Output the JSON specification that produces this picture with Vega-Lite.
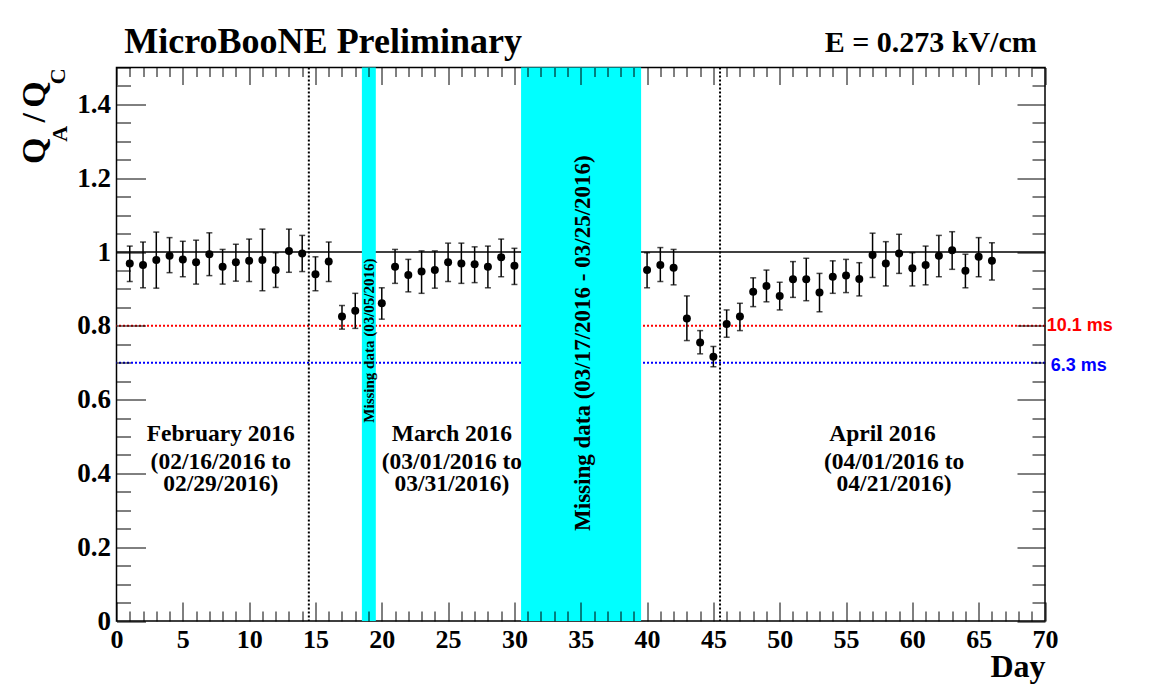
{
  "$schema": "https://vega.github.io/schema/vega-lite/v6.json",
  "width": 928.5,
  "height": 553.5,
  "autosize": {"type": "none"},
  "padding": {"left": 116.5, "top": 67.5, "right": 117, "bottom": 69},
  "background": "white",
  "config": {
    "view": {"stroke": "black", "strokeWidth": 1.5},
    "font": "Liberation Serif"
  },
  "datasets": {
    "pts": [
      {"day": 1, "q": 0.969, "lo": 0.920, "hi": 1.016},
      {"day": 2, "q": 0.965, "lo": 0.903, "hi": 1.027},
      {"day": 3, "q": 0.978, "lo": 0.902, "hi": 1.054},
      {"day": 4, "q": 0.990, "lo": 0.944, "hi": 1.039},
      {"day": 5, "q": 0.980, "lo": 0.933, "hi": 1.029},
      {"day": 6, "q": 0.972, "lo": 0.913, "hi": 1.032},
      {"day": 7, "q": 0.994, "lo": 0.936, "hi": 1.052},
      {"day": 8, "q": 0.960, "lo": 0.913, "hi": 1.007},
      {"day": 9, "q": 0.972, "lo": 0.921, "hi": 1.021},
      {"day": 10, "q": 0.976, "lo": 0.920, "hi": 1.035},
      {"day": 11, "q": 0.978, "lo": 0.895, "hi": 1.062},
      {"day": 12, "q": 0.951, "lo": 0.904, "hi": 0.998},
      {"day": 13, "q": 1.003, "lo": 0.945, "hi": 1.062},
      {"day": 14, "q": 0.996, "lo": 0.947, "hi": 1.045},
      {"day": 15, "q": 0.940, "lo": 0.895, "hi": 0.987},
      {"day": 16, "q": 0.974, "lo": 0.920, "hi": 1.027},
      {"day": 17, "q": 0.825, "lo": 0.791, "hi": 0.855},
      {"day": 18, "q": 0.841, "lo": 0.793, "hi": 0.888},
      {"day": 20, "q": 0.861, "lo": 0.818, "hi": 0.903},
      {"day": 21, "q": 0.960, "lo": 0.915, "hi": 1.007},
      {"day": 22, "q": 0.938, "lo": 0.892, "hi": 0.980},
      {"day": 23, "q": 0.947, "lo": 0.888, "hi": 1.003},
      {"day": 24, "q": 0.951, "lo": 0.902, "hi": 1.003},
      {"day": 25, "q": 0.972, "lo": 0.920, "hi": 1.024},
      {"day": 26, "q": 0.969, "lo": 0.915, "hi": 1.024},
      {"day": 27, "q": 0.967, "lo": 0.917, "hi": 1.014},
      {"day": 28, "q": 0.960, "lo": 0.903, "hi": 1.016},
      {"day": 29, "q": 0.986, "lo": 0.933, "hi": 1.035},
      {"day": 30, "q": 0.963, "lo": 0.912, "hi": 1.010},
      {"day": 40, "q": 0.951, "lo": 0.903, "hi": 0.998},
      {"day": 41, "q": 0.965, "lo": 0.920, "hi": 1.012},
      {"day": 42, "q": 0.957, "lo": 0.911, "hi": 1.007},
      {"day": 43, "q": 0.820, "lo": 0.760, "hi": 0.881},
      {"day": 44, "q": 0.755, "lo": 0.724, "hi": 0.787},
      {"day": 45, "q": 0.716, "lo": 0.689, "hi": 0.744},
      {"day": 46, "q": 0.805, "lo": 0.769, "hi": 0.843},
      {"day": 47, "q": 0.825, "lo": 0.787, "hi": 0.861},
      {"day": 48, "q": 0.892, "lo": 0.852, "hi": 0.930},
      {"day": 49, "q": 0.908, "lo": 0.865, "hi": 0.951},
      {"day": 50, "q": 0.881, "lo": 0.843, "hi": 0.918},
      {"day": 51, "q": 0.926, "lo": 0.877, "hi": 0.974},
      {"day": 52, "q": 0.926, "lo": 0.868, "hi": 0.983},
      {"day": 53, "q": 0.890, "lo": 0.838, "hi": 0.942},
      {"day": 54, "q": 0.933, "lo": 0.888, "hi": 0.976},
      {"day": 55, "q": 0.936, "lo": 0.890, "hi": 0.980},
      {"day": 56, "q": 0.927, "lo": 0.881, "hi": 0.971},
      {"day": 57, "q": 0.992, "lo": 0.931, "hi": 1.051},
      {"day": 58, "q": 0.969, "lo": 0.908, "hi": 1.028},
      {"day": 59, "q": 0.996, "lo": 0.942, "hi": 1.048},
      {"day": 60, "q": 0.956, "lo": 0.908, "hi": 0.998},
      {"day": 61, "q": 0.965, "lo": 0.911, "hi": 1.016},
      {"day": 62, "q": 0.990, "lo": 0.933, "hi": 1.045},
      {"day": 63, "q": 1.005, "lo": 0.953, "hi": 1.055},
      {"day": 64, "q": 0.949, "lo": 0.903, "hi": 0.994},
      {"day": 65, "q": 0.987, "lo": 0.933, "hi": 1.039},
      {"day": 66, "q": 0.976, "lo": 0.924, "hi": 1.025}
    ],
    "months": [
      {"day": 7.86, "val": 0.488, "t": "February 2016"},
      {"day": 7.86, "val": 0.413, "t": "(02/16/2016 to"},
      {"day": 7.86, "val": 0.353, "t": "02/29/2016)"},
      {"day": 25.29, "val": 0.488, "t": "March 2016"},
      {"day": 25.29, "val": 0.413, "t": "(03/01/2016 to"},
      {"day": 25.29, "val": 0.353, "t": "03/31/2016)"},
      {"day": 57.75, "val": 0.488, "t": "April 2016"},
      {"day": 58.62, "val": 0.413, "t": "(04/01/2016 to"},
      {"day": 58.62, "val": 0.353, "t": "04/21/2016)"}
    ]
  },
  "layer": [
    {
      "data": {"values": [{"val": 1}]},
      "mark": {"type": "rule", "color": "black", "strokeWidth": 1.5},
      "encoding": {
        "y": {"field": "val", "type": "quantitative", "scale": {"domain": [0, 1.5], "nice": false}, "axis": null}
      }
    },
    {
      "data": {"values": [{"val": 0.8}]},
      "mark": {"type": "rule", "color": "#ff0000", "strokeWidth": 2, "strokeDash": [2, 2]},
      "encoding": {
        "y": {"field": "val", "type": "quantitative", "scale": {"domain": [0, 1.5], "nice": false}, "axis": null}
      }
    },
    {
      "data": {"values": [{"val": 0.7}]},
      "mark": {"type": "rule", "color": "#0000ff", "strokeWidth": 2, "strokeDash": [2, 2]},
      "encoding": {
        "y": {"field": "val", "type": "quantitative", "scale": {"domain": [0, 1.5], "nice": false}, "axis": null}
      }
    },
    {
      "data": {"values": [{"day": 18.5, "day2": 19.55}, {"day": 30.5, "day2": 39.55}]},
      "mark": {"type": "rect", "color": "#00ffff"},
      "encoding": {
        "x": {"field": "day", "type": "quantitative", "scale": {"domain": [0, 70], "nice": false}, "axis": null},
        "x2": {"field": "day2"}
      }
    },
    {
      "data": {"values": [{"day": 14.5}, {"day": 45.5}]},
      "mark": {"type": "rule", "color": "black", "strokeWidth": 2, "strokeDash": [2, 2]},
      "encoding": {
        "x": {"field": "day", "type": "quantitative", "scale": {"domain": [0, 70], "nice": false}, "axis": null}
      }
    },
    {
      "data": {"name": "pts"},
      "mark": {"type": "errorbar", "color": "black", "thickness": 1.5, "ticks": {"size": 6, "color": "black"}},
      "encoding": {
        "x": {"field": "day", "type": "quantitative", "scale": {"domain": [0, 70], "nice": false}, "axis": null},
        "y": {"field": "lo", "type": "quantitative", "scale": {"domain": [0, 1.5], "nice": false}, "axis": null},
        "y2": {"field": "hi"}
      }
    },
    {
      "data": {"name": "pts"},
      "mark": {"type": "circle", "size": 64, "color": "black", "opacity": 1},
      "encoding": {
        "x": {
          "field": "day", "type": "quantitative", "scale": {"domain": [0, 70], "nice": false},
          "axis": {
            "orient": "bottom", "zindex": 1, "domain": false, "grid": false,
            "values": [0,1,2,3,4,5,6,7,8,9,10,11,12,13,14,15,16,17,18,19,20,21,22,23,24,25,26,27,28,29,30,31,32,33,34,35,36,37,38,39,40,41,42,43,44,45,46,47,48,49,50,51,52,53,54,55,56,57,58,59,60,61,62,63,64,65,66,67,68,69,70],
            "labelExpr": "datum.value % 5 === 0 ? datum.label : ''",
            "labelFont": "Liberation Serif", "labelFontWeight": "bold", "labelFontSize": 26, "labelColor": "black",
            "labelOverlap": false, "labelFlush": false, "labelPadding": 24,
            "tickColor": "black", "tickWidth": 1,
            "tickSize": {"condition": {"test": "datum.value % 5 === 0", "value": -19}, "value": -10},
            "title": "Day", "titleFont": "Liberation Serif", "titleFontWeight": "bold", "titleFontSize": 32, "titleColor": "black",
            "titleAnchor": "end", "titleAlign": "right", "titlePadding": -10
          }
        },
        "y": {
          "field": "q", "type": "quantitative", "scale": {"domain": [0, 1.5], "nice": false},
          "axis": {
            "orient": "left", "zindex": 1, "domain": false, "grid": false,
            "values": [0,0.05,0.1,0.15,0.2,0.25,0.3,0.35,0.4,0.45,0.5,0.55,0.6,0.65,0.7,0.75,0.8,0.85,0.9,0.95,1,1.05,1.1,1.15,1.2,1.25,1.3,1.35,1.4,1.45,1.5],
            "labelExpr": "abs(datum.value*5 - round(datum.value*5)) < 0.001 ? format(datum.value, '.1~f') : ''",
            "labelFont": "Liberation Serif", "labelFontWeight": "bold", "labelFontSize": 27, "labelColor": "black",
            "labelOverlap": false, "labelFlush": false, "labelPadding": 35,
            "tickColor": "black", "tickWidth": 1,
            "tickSize": {"condition": {"test": "abs(datum.value*5 - round(datum.value*5)) < 0.001", "value": -29}, "value": -14},
            "title": null
          }
        }
      }
    },
    {
      "data": {"name": "months"},
      "mark": {"type": "text", "font": "Liberation Serif", "fontWeight": "bold", "fontSize": 23.5, "color": "black", "align": "center", "baseline": "alphabetic"},
      "encoding": {
        "x": {
          "field": "day", "type": "quantitative", "scale": {"domain": [0, 70], "nice": false},
          "axis": {
            "orient": "top", "zindex": 1, "domain": false, "grid": false, "labels": false, "title": null,
            "values": [0,1,2,3,4,5,6,7,8,9,10,11,12,13,14,15,16,17,18,19,20,21,22,23,24,25,26,27,28,29,30,31,32,33,34,35,36,37,38,39,40,41,42,43,44,45,46,47,48,49,50,51,52,53,54,55,56,57,58,59,60,61,62,63,64,65,66,67,68,69,70],
            "tickColor": "black", "tickWidth": 1,
            "tickSize": {"condition": {"test": "datum.value % 5 === 0", "value": -17}, "value": -9}
          }
        },
        "y": {
          "field": "val", "type": "quantitative", "scale": {"domain": [0, 1.5], "nice": false},
          "axis": {
            "orient": "right", "zindex": 1, "domain": false, "grid": false, "labels": false, "title": null,
            "values": [0,0.05,0.1,0.15,0.2,0.25,0.3,0.35,0.4,0.45,0.5,0.55,0.6,0.65,0.7,0.75,0.8,0.85,0.9,0.95,1,1.05,1.1,1.15,1.2,1.25,1.3,1.35,1.4,1.45,1.5],
            "tickColor": "black", "tickWidth": 1,
            "tickSize": {"condition": {"test": "abs(datum.value*5 - round(datum.value*5)) < 0.001", "value": -28}, "value": -13}
          }
        },
        "text": {"field": "t"}
      }
    },
    {
      "data": {"values": [{"day": 19.02, "val": 0.76, "t": "Missing data (03/05/2016)"}]},
      "mark": {"type": "text", "font": "Liberation Serif", "fontWeight": "bold", "fontSize": 15, "color": "black", "angle": -90, "align": "center", "baseline": "middle"},
      "encoding": {
        "x": {"field": "day", "type": "quantitative", "scale": {"domain": [0, 70], "nice": false}, "axis": null},
        "y": {"field": "val", "type": "quantitative", "scale": {"domain": [0, 1.5], "nice": false}, "axis": null},
        "text": {"field": "t"}
      }
    },
    {
      "data": {"values": [{"day": 35.15, "val": 0.753, "t": "Missing data (03/17/2016 - 03/25/2016)"}]},
      "mark": {"type": "text", "font": "Liberation Serif", "fontWeight": "bold", "fontSize": 23, "color": "black", "angle": -90, "align": "center", "baseline": "middle"},
      "encoding": {
        "x": {"field": "day", "type": "quantitative", "scale": {"domain": [0, 70], "nice": false}, "axis": null},
        "y": {"field": "val", "type": "quantitative", "scale": {"domain": [0, 1.5], "nice": false}, "axis": null},
        "text": {"field": "t"}
      }
    },
    {
      "data": {"values": [{"day": 0.59, "val": 1.538, "t": "MicroBooNE Preliminary"}]},
      "mark": {"type": "text", "font": "Liberation Serif", "fontWeight": "bold", "fontSize": 36, "color": "black", "align": "left", "baseline": "alphabetic"},
      "encoding": {
        "x": {"field": "day", "type": "quantitative", "scale": {"domain": [0, 70], "nice": false}, "axis": null},
        "y": {"field": "val", "type": "quantitative", "scale": {"domain": [0, 1.5], "nice": false}, "axis": null},
        "text": {"field": "t"}
      }
    },
    {
      "data": {"values": [{"day": 69.38, "val": 1.543, "t": "E = 0.273 kV/cm"}]},
      "mark": {"type": "text", "font": "Liberation Serif", "fontWeight": "bold", "fontSize": 30, "color": "black", "align": "right", "baseline": "alphabetic"},
      "encoding": {
        "x": {"field": "day", "type": "quantitative", "scale": {"domain": [0, 70], "nice": false}, "axis": null},
        "y": {"field": "val", "type": "quantitative", "scale": {"domain": [0, 1.5], "nice": false}, "axis": null},
        "text": {"field": "t"}
      }
    },
    {
      "data": {"values": [
        {"day": -5.39, "val": 1.274, "t": "Q"},
        {"day": -5.39, "val": 1.364, "t": "/"},
        {"day": -5.39, "val": 1.427, "t": "Q"}
      ]},
      "mark": {"type": "text", "font": "Liberation Serif", "fontWeight": "bold", "fontSize": 34, "color": "black", "angle": -90, "align": "center", "baseline": "alphabetic"},
      "encoding": {
        "x": {"field": "day", "type": "quantitative", "scale": {"domain": [0, 70], "nice": false}, "axis": null},
        "y": {"field": "val", "type": "quantitative", "scale": {"domain": [0, 1.5], "nice": false}, "axis": null},
        "text": {"field": "t"}
      }
    },
    {
      "data": {"values": [
        {"day": -3.73, "val": 1.320, "t": "A"},
        {"day": -3.85, "val": 1.476, "t": "C"}
      ]},
      "mark": {"type": "text", "font": "Liberation Serif", "fontWeight": "bold", "fontSize": 22, "color": "black", "angle": -90, "align": "center", "baseline": "alphabetic"},
      "encoding": {
        "x": {"field": "day", "type": "quantitative", "scale": {"domain": [0, 70], "nice": false}, "axis": null},
        "y": {"field": "val", "type": "quantitative", "scale": {"domain": [0, 1.5], "nice": false}, "axis": null},
        "text": {"field": "t"}
      }
    },
    {
      "data": {"values": [{"day": 70.13, "val": 0.8, "t": "10.1 ms"}]},
      "mark": {"type": "text", "font": "Liberation Sans", "fontWeight": "bold", "fontSize": 18, "color": "#ff0000", "align": "left", "baseline": "middle"},
      "encoding": {
        "x": {"field": "day", "type": "quantitative", "scale": {"domain": [0, 70], "nice": false}, "axis": null},
        "y": {"field": "val", "type": "quantitative", "scale": {"domain": [0, 1.5], "nice": false}, "axis": null},
        "text": {"field": "t"}
      }
    },
    {
      "data": {"values": [{"day": 70.43, "val": 0.691, "t": "6.3 ms"}]},
      "mark": {"type": "text", "font": "Liberation Sans", "fontWeight": "bold", "fontSize": 18, "color": "#0000ff", "align": "left", "baseline": "middle"},
      "encoding": {
        "x": {"field": "day", "type": "quantitative", "scale": {"domain": [0, 70], "nice": false}, "axis": null},
        "y": {"field": "val", "type": "quantitative", "scale": {"domain": [0, 1.5], "nice": false}, "axis": null},
        "text": {"field": "t"}
      }
    }
  ],
  "resolve": {"axis": {"x": "independent", "y": "independent"}}
}
